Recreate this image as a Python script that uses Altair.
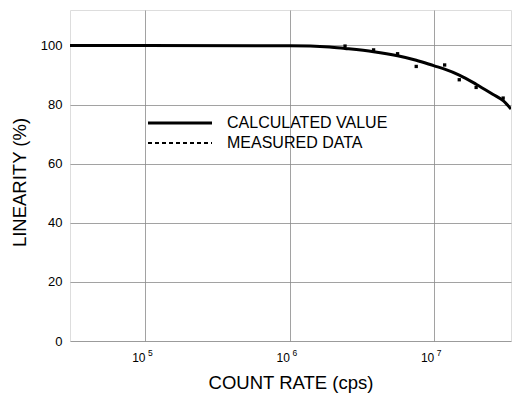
import altair as alt
import pandas as pd

# Calculated value curve (count rate cps, linearity %)
calc_x = [3.0e4, 1e5, 1e6, 1.88e6, 2.41e6, 3.80e6, 5.57e6, 7.5e6, 1.0e7, 1.18e7, 1.49e7, 1.95e7, 2.54e7, 3.0e7, 3.4e7]
calc_y = [100.0, 100.0, 99.9, 99.5, 99.0, 97.9, 96.5, 95.0, 93.1, 92.0, 90.0, 86.9, 83.5, 81.3, 78.5]

# Measured data points
meas_x = [2.41e6, 3.80e6, 5.57e6, 7.5e6, 1.18e7, 1.49e7, 1.95e7, 3.0e7]
meas_y = [99.8, 98.5, 97.2, 92.9, 93.4, 88.4, 85.8, 82.2]

x_ticks = [1e5, 1e6, 1e7]
x_tick_base = ["10", "10", "10"]
x_tick_exp = ["5", "6", "7"]
y_ticks = [0, 20, 40, 60, 80, 100]
legend_labels = ["CALCULATED VALUE", "MEASURED DATA"]

FONT = "Liberation Sans"
W, H = 441, 331

calc = pd.DataFrame({"rate": calc_x, "lin": calc_y})
meas = pd.DataFrame({"rate": meas_x, "lin": meas_y})
ticks = pd.DataFrame({"rate": x_ticks, "base": x_tick_base, "exp": x_tick_exp})

xscale = alt.Scale(type="log", domain=[3.0e4, 3.4e7], nice=False)
yscale = alt.Scale(domain=[0, 112], nice=False, zero=True)

xaxis = alt.Axis(
    title="COUNT RATE (cps)", values=x_ticks, labels=False,
    grid=True, gridColor="#8a8a8a", gridWidth=0.8, ticks=False, domain=False,
    titleFont=FONT, titleFontSize=18.5, titleFontWeight="normal", titleColor="black",
    titleBaseline="alphabetic", titleY=47,
)
yaxis = alt.Axis(
    title="LINEARITY (%)", values=y_ticks,
    grid=True, gridColor="#8a8a8a", gridWidth=0.8, ticks=False, domain=False,
    labelFont=FONT, labelFontSize=13, labelColor="black", labelPadding=8,
    titleFont=FONT, titleFontSize=18.5, titleFontWeight="normal", titleColor="black",
    titleBaseline="alphabetic", titleX=-45, titleY=172,
)

line = alt.Chart(calc).mark_line(color="black", strokeWidth=3, interpolate="monotone", clip=True).encode(
    x=alt.X("rate:Q", scale=xscale, axis=xaxis),
    y=alt.Y("lin:Q", scale=yscale, axis=yaxis),
)

pts = alt.Chart(meas).mark_square(color="black", size=11, opacity=1).encode(
    x=alt.X("rate:Q", scale=xscale),
    y=alt.Y("lin:Q", scale=yscale),
)

lab_base = alt.Chart(ticks).mark_text(font=FONT, fontSize=12, align="right", baseline="alphabetic", color="black").encode(
    x=alt.X("rate:Q", scale=xscale), y=alt.value(H + 20.5), text="base:N"
)
lab_exp = alt.Chart(ticks).mark_text(font=FONT, fontSize=8.5, align="left", baseline="alphabetic", color="black", dx=2.5).encode(
    x=alt.X("rate:Q", scale=xscale), y=alt.value(H + 15), text="exp:N"
)

leg_df = pd.DataFrame({"label": legend_labels[:1]})
leg_df2 = pd.DataFrame({"label": legend_labels[1:]})

leg_solid = alt.Chart(leg_df).mark_rule(color="black", strokeWidth=3).encode(
    x=alt.value(78), x2=alt.value(142), y=alt.value(113)
)
leg_dot = alt.Chart(leg_df2).mark_rule(color="black", strokeWidth=2, strokeDash=[4, 3]).encode(
    x=alt.value(78), x2=alt.value(142), y=alt.value(133)
)
leg_t1 = alt.Chart(leg_df).mark_text(font=FONT, fontSize=16, align="left", baseline="middle", color="black").encode(
    x=alt.value(157), y=alt.value(113), text="label:N"
)
leg_t2 = alt.Chart(leg_df2).mark_text(font=FONT, fontSize=16, align="left", baseline="middle", color="black").encode(
    x=alt.value(157), y=alt.value(133), text="label:N"
)

chart = alt.layer(line, pts, lab_base, lab_exp, leg_solid, leg_dot, leg_t1, leg_t2).properties(
    width=W, height=H,
    autosize=alt.AutoSizeParams(type="none"),
    padding={"left": 62, "top": 2, "right": 8, "bottom": 58},
).configure_view(stroke="black", strokeWidth=2.5).configure(background="white")

chart.save("out.html", embed_options={"renderer": "svg", "actions": False})
